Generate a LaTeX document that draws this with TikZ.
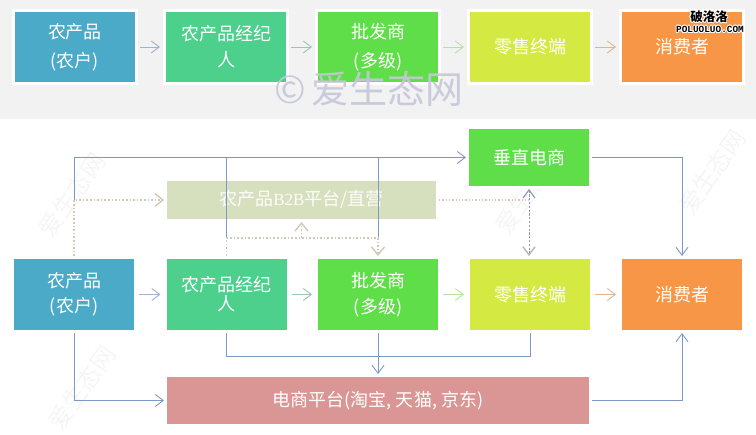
\documentclass[tikz,border=0pt]{standalone}
\usepackage{fontspec}
\usepackage{contour}
\contourlength{0.8pt}
\setmainfont{Noto Sans CJK SC}
\newfontfamily\logomono{Liberation Mono}
\newfontfamily\bserif{Liberation Serif}
\usetikzlibrary{arrows.meta,calc}
\definecolor{topbg}{RGB}{242,242,242}
\definecolor{cA}{RGB}{75,170,200}
\definecolor{cB}{RGB}{76,208,140}
\definecolor{cC}{RGB}{96,222,74}
\definecolor{cD}{RGB}{212,234,66}
\definecolor{cE}{RGB}{247,150,70}
\definecolor{cP}{RGB}{215,224,190}
\definecolor{cS}{RGB}{217,150,148}
\definecolor{lineblue}{RGB}{125,152,198}
\definecolor{dotc}{RGB}{210,200,186}
\definecolor{dotp}{RGB}{218,196,190}
\definecolor{dashc}{RGB}{140,152,180}
\definecolor{wmc}{RGB}{198,198,218}
\definecolor{ar1}{RGB}{160,180,205}
\definecolor{ar2}{RGB}{150,200,180}
\definecolor{ar3}{RGB}{185,225,160}
\definecolor{ar4}{RGB}{226,180,140}
\begin{document}
\begin{tikzpicture}[x=1pt,y=-1pt,
  cbox/.style={draw=white, line width=3pt, text=white, align=center, inner sep=0pt,
               minimum width=123pt, minimum height=73pt},
  bl/.style={draw=lineblue, line width=0.9pt},
  tip/.style={-{Straight Barb[length=8pt,width=12pt]}},
  rowar/.style={line width=0.9pt, tip, shorten <=2pt, shorten >=3pt},
  dotl/.style={draw=dotc, line width=1.6pt, dash pattern=on 1.6pt off 2pt},
  dottip/.style={-{Straight Barb[length=8pt,width=13pt,line width=1.4pt]}},
  fnt/.style={font=\fontsize{18}{#1}\selectfont},
  faint/.style={text=black!4, font=\fontsize{24}{24}\selectfont, rotate=55}
]
\useasboundingbox (0,0) rectangle (756,435);
\fill[topbg] (0,0) rectangle (756,119);

% faint diagonal watermarks
\node[faint] (fw1) at (72,195) {爱生态网};
\node[faint] (fw2) at (528,192) {爱生态网};
\node[faint] (fw3) at (82,388) {爱生态网};
\node[faint] (fw4) at (712,172) {爱生态网};

% ---- top row ----
\node[cbox, fill=cA, fnt=28.5] (tA) at (75,47) {农产品\\(农户)};
\node[cbox, fill=cB, fnt=26] (tB) at (226,47) {农产品经纪\\人};
\node[cbox, fill=cC, fnt=28.5] (tC) at (378,47) {批发商\\(多级)};
\node[cbox, fill=cD, fnt=26] (tD) at (530,47) {零售终端};
\node[cbox, fill=cE, fnt=26] (tE) at (682,47) {消费者};
\draw[rowar, ar1] (tA) -- (tB);
\draw[rowar, ar2] (tB) -- (tC);
\draw[rowar, ar3] (tC) -- (tD);
\draw[rowar, ar4] (tD) -- (tE);

% big watermark
\node[text=wmc, opacity=0.9, font=\fontsize{38}{38}\selectfont] (wm) at (369,89) {©\,爱生态网};

% logo
\node[text=black, font=\fontsize{12.5}{12.5}\selectfont\bfseries] (lg1) at (709,17) {\contour{white}{破洛洛}};
\node[text=black, font=\logomono\fontsize{9.4}{9.4}\selectfont\bfseries] (lg2) at (710,30) {\contour{white}{POLUOLUO.COM}};

% ---- bottom ----
\node[cbox, fill=cA, minimum height=74pt, fnt=25] (A) at (74,294.5) {农产品\\(农户)};
\node[cbox, fill=cB, minimum height=74pt, fnt=19] (B) at (226.5,294.5) {农产品经纪\\人};
\node[cbox, fill=cC, minimum height=74pt, fnt=26] (C) at (378,294.5) {批发商\\(多级)};
\node[cbox, fill=cD, minimum height=74pt, fnt=26] (D) at (530,294.5) {零售终端};
\node[cbox, fill=cE, minimum height=74pt, fnt=26] (E) at (682,294.5) {消费者};
\node[cbox, fill=cC, minimum width=123pt, minimum height=60pt, fnt=26] (V) at (529,157.5) {垂直电商};
\node[cbox, fill=cP, minimum width=272pt, minimum height=41pt, fnt=26, text=white!92!cP] (P) at (301.5,200) {农产品{\bserif\fontsize{17}{17}\selectfont B2B}平台/直营};
\node[cbox, fill=cS, minimum width=425pt, minimum height=50pt, fnt=26] (S) at (378,400.5) {电商平台(淘宝, 天猫, 京东)};

\draw[rowar, ar1] (A) -- (B);
\draw[rowar, ar2] (B) -- (C);
\draw[rowar, ar3] (C) -- (D);
\draw[rowar, ar4] (D) -- (E);

% coordinates
\coordinate (a1) at (A.north |- P.west);
\coordinate (b1) at ($(B.north)+(0,-18)$);
\coordinate (c1) at (b1 -| C.north);
\coordinate (b2) at ($(B.south)+(0,23)$);

% blue solid connectors
\draw[bl, tip] (a1) |- (V.west);
\draw[bl] (b1) -- (B.north |- V.west);
\draw[bl] (c1) -- (C.north |- V.west);
\draw[bl, tip] (V.east) -| (E.north);
\draw[bl] (B.south) -- (b2) -| (D.south);
\draw[bl, tip] (C.south) -- (S.north);
\draw[bl, tip] (A.south) |- (S.west);
\draw[bl, tip] (S.east) -| (E.south);

% dotted connectors
\draw[dotl, dottip] (A.north) -- (a1) -- (P.west);
\draw[dotl] (B.north) -- (b1) -- (c1);
\draw[dotl, dottip] (c1) -- (C.north);
\draw[dotl, dottip] (b1 -| P.south) -- (P.south);
\draw[draw=dotp, line width=1.3pt, dash pattern=on 1.3pt off 2pt] (P.east) -- (P.east -| V.south);
\draw[draw=dashc, line width=1pt, dash pattern=on 2.2pt off 1.6pt,
      {Straight Barb[length=8pt,width=12pt,line width=1.2pt]}-{Straight Barb[length=8pt,width=12pt,line width=1.4pt,color=dotc!90!black]}]
      (V.south) -- (V.south |- D.north);
\end{tikzpicture}
\end{document}
